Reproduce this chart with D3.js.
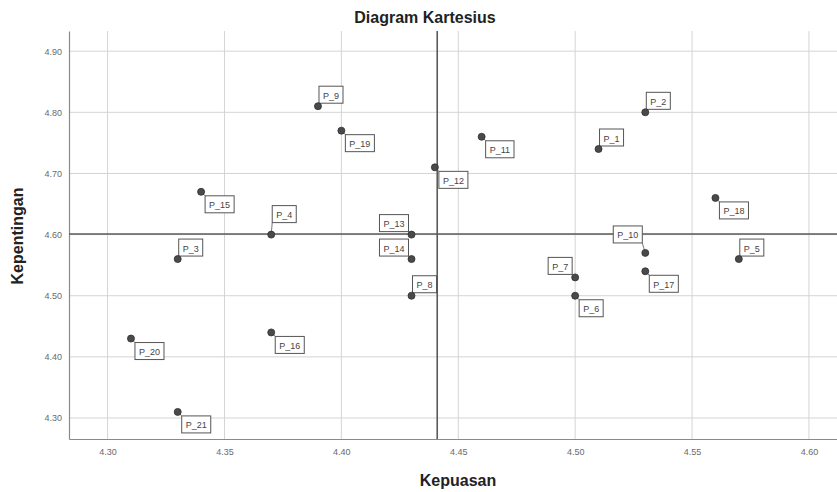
<!DOCTYPE html>
<html>
<head>
<meta charset="utf-8">
<script src="https://cdn.jsdelivr.net/npm/d3@7"></script>
<style>
  html, body { margin: 0; padding: 0; background: #fff; }
  svg { display: block; font-family: "Liberation Sans", Arial, sans-serif; }
</style>
</head>
<body>
<svg id="chart" width="837" height="492"></svg>
<script>
// ---- data ----
const labels = ["P_1","P_2","P_3","P_4","P_5","P_6","P_7","P_8","P_9","P_10","P_11",
                "P_12","P_13","P_14","P_15","P_16","P_17","P_18","P_19","P_20","P_21"];
const kepuasan = [4.51,4.53,4.33,4.37,4.57,4.50,4.50,4.43,4.39,4.53,4.46,
                  4.44,4.43,4.43,4.34,4.37,4.53,4.56,4.40,4.31,4.33];
const kepentingan = [4.74,4.80,4.56,4.60,4.56,4.50,4.53,4.50,4.81,4.57,4.76,
                     4.71,4.60,4.56,4.67,4.44,4.54,4.66,4.77,4.43,4.31];
const xTickValues = [4.30,4.35,4.40,4.45,4.50,4.55,4.60];
const yTickValues = [4.30,4.40,4.50,4.60,4.70,4.80,4.90];
const meanKepuasan = 4.441;
const meanKepentingan = 4.601;
// label placement codes (ur = upper right, lr = lower right, ul = upper left, *2 = raised)
const labelPlacement = ["ur","ur","ur","ur2","ur","lr","ul","ur","ur","ul2","lr",
                        "lr","ul","ul","lr","lr","lr","lr","lr","lr","lr"];

const title = "Diagram Kartesius";
const xTitle = "Kepuasan";
const yTitle = "Kepentingan";

(function () {
// ---- layout ----
const svg = d3.select("#chart");
const pLeft = 69, pRight = 837, pTop = 31, pBottom = 439;

const x = d3.scaleLinear().domain([4.2835, 4.612]).range([pLeft, pRight]);
const y = d3.scaleLinear().domain([4.2657, 4.933]).range([pBottom, pTop]);

// gridlines
const grid = svg.append("g");
grid.selectAll("line.vg").data(xTickValues).join("line").attr("class", "vg")
  .attr("x1", d => x(d)).attr("x2", d => x(d))
  .attr("y1", pTop).attr("y2", pBottom)
  .attr("stroke", "#d4d4d4").attr("stroke-width", 1);
grid.selectAll("line.hg").data(yTickValues).join("line").attr("class", "hg")
  .attr("x1", pLeft).attr("x2", pRight)
  .attr("y1", d => y(d)).attr("y2", d => y(d))
  .attr("stroke", "#d4d4d4").attr("stroke-width", 1);

// axes
const xAxis = d3.axisBottom(x).tickValues(xTickValues).tickSize(0).tickPadding(10)
  .tickFormat(d3.format(".2f"));
const yAxis = d3.axisLeft(y).tickValues(yTickValues).tickSize(0).tickPadding(7)
  .tickFormat(d3.format(".2f"));

const gx = svg.append("g").attr("transform", `translate(0,${pBottom})`).call(xAxis);
const gy = svg.append("g").attr("transform", `translate(${pLeft},0)`).call(yAxis);
[gx, gy].forEach(g => {
  g.select(".domain").attr("stroke", "#8a8a8a").attr("stroke-width", 1.2);
  g.selectAll("text").attr("fill", "#6a6a6a").style("font-size", "9px")
    .style("font-family", "'Liberation Sans Narrow', 'Liberation Sans', Arial, sans-serif");
});

// reference lines
svg.append("line")
  .attr("x1", x(meanKepuasan)).attr("x2", x(meanKepuasan))
  .attr("y1", pTop).attr("y2", pBottom)
  .attr("stroke", "#5a5a5a").attr("stroke-width", 1.6);
svg.append("line")
  .attr("x1", pLeft).attr("x2", pRight)
  .attr("y1", y(meanKepentingan)).attr("y2", y(meanKepentingan))
  .attr("stroke", "#5a5a5a").attr("stroke-width", 1.6);

// points data
const pts = labels.map((l, i) => ({ label: l, kx: kepuasan[i], ky: kepentingan[i], pos: labelPlacement[i] }));

// labels
const lblG = svg.append("g");
const boxH = 17;
pts.forEach(p => {
  const px = x(p.kx), py = y(p.ky);
  const g = lblG.append("g");
  const t = g.append("text").text(p.label)
    .attr("font-size", "9px").attr("fill", "#444");
  const tw = t.node().getComputedTextLength();
  const bw = tw + 8;
  let bx, by, cx, cy;
  switch (p.pos) {
    case "ur":  bx = px + 1;      by = py - 3 - boxH;  cx = bx; cy = by + boxH; break;
    case "ur2": bx = px + 1;      by = py - 12 - boxH; cx = bx; cy = by + boxH; break;
    case "lr":  bx = px + 4;      by = py + 4;         cx = bx; cy = by; break;
    case "ul":  bx = px - 3 - bw; by = py - 3 - boxH;  cx = bx + bw; cy = by + boxH; break;
    case "ul2": bx = px - 3 - bw; by = py - 10 - boxH; cx = bx + bw; cy = by + boxH; break;
  }
  g.insert("line", "text")
    .attr("x1", px).attr("y1", py).attr("x2", cx).attr("y2", cy)
    .attr("stroke", "#777").attr("stroke-width", 1);
  g.insert("rect", "text")
    .attr("x", bx).attr("y", by).attr("width", bw).attr("height", boxH)
    .attr("fill", "#fff").attr("stroke", "#555").attr("stroke-width", 1);
  t.attr("x", bx + 4).attr("y", by + 12.5);
});

// points
svg.append("g").selectAll("circle").data(pts).join("circle")
  .attr("cx", d => x(d.kx)).attr("cy", d => y(d.ky)).attr("r", 3.5)
  .attr("fill", "#4a4a4a").attr("stroke", "#2e2e2e").attr("stroke-width", 0.8);

// titles
svg.append("text").text(title)
  .attr("x", 425).attr("y", 23).attr("text-anchor", "middle")
  .attr("font-size", "16px").attr("font-weight", "bold").attr("fill", "#222");
svg.append("text").text(xTitle)
  .attr("x", 458).attr("y", 486).attr("text-anchor", "middle")
  .attr("font-size", "16px").attr("font-weight", "bold").attr("fill", "#222");
svg.append("text").text(yTitle)
  .attr("transform", "translate(23,236) rotate(-90)").attr("text-anchor", "middle")
  .attr("font-size", "16px").attr("font-weight", "bold").attr("fill", "#222");
})();
</script>
</body>
</html>
